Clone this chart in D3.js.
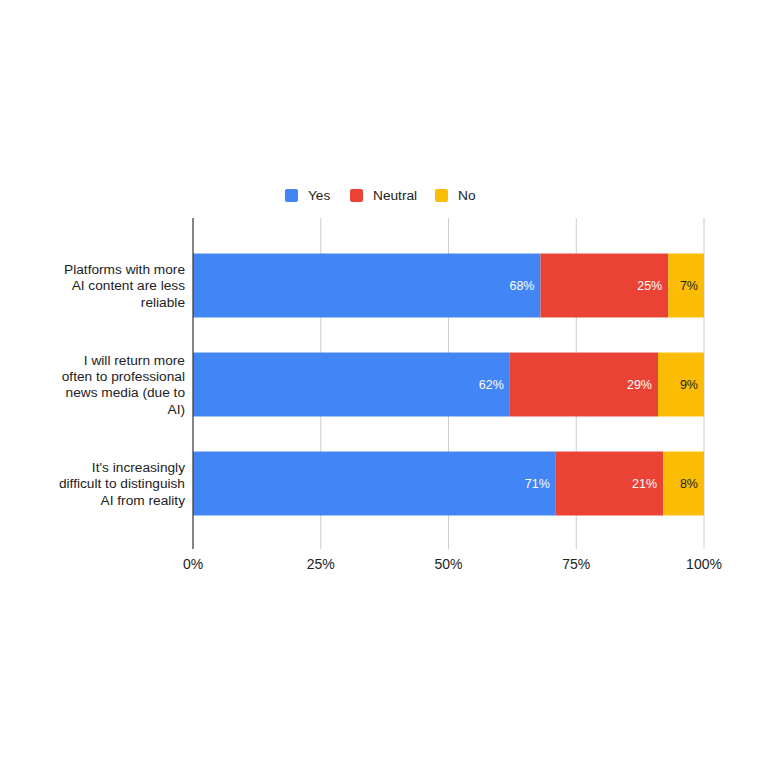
<!DOCTYPE html>
<html>
<head>
<meta charset="utf-8">
<script src="https://cdn.jsdelivr.net/npm/d3@7"></script>
<style>
  body { margin: 0; background: #fff; }
  svg { font-family: "Liberation Sans", Arial, sans-serif; }
</style>
</head>
<body>
<div id="vis"></div>
<script>
// chart data
const questions = [
  ['Platforms with more', 'AI content are less', 'reliable'],
  ['I will return more', 'often to professional', 'news media (due to', 'AI)'],
  ["It's increasingly", 'difficult to distinguish', 'AI from reality']
];
const series = ['Yes', 'Neutral', 'No'];
const yesValues = [68, 62, 71];
const neutralValues = [25, 29, 21];
const noValues = [7, 9, 8];
const tickValues = [0, 25, 50, 75, 100];

const colors = ['#4285f4', '#ea4335', '#fbbc04'];
const labelColors = ['#ffffff', '#ffffff', '#222222'];

const width = 760, height = 760;
const svg = d3.select('#vis').append('svg')
  .attr('width', width)
  .attr('height', height);

const x = d3.scaleLinear().domain([0, 100]).range([193, 704]);
const y = d3.scaleBand()
  .domain(d3.range(questions.length))
  .range([236, 533])
  .paddingInner(0.354)
  .paddingOuter(0.177);

// gridlines
svg.append('g').selectAll('line')
  .data(tickValues.slice(1))
  .join('line')
  .attr('x1', d => x(d)).attr('x2', d => x(d))
  .attr('y1', 218).attr('y2', 549)
  .attr('stroke', '#cccccc').attr('stroke-width', 1);

// tick labels
svg.append('g').selectAll('text')
  .data(tickValues)
  .join('text')
  .attr('x', d => x(d))
  .attr('y', 569)
  .attr('text-anchor', 'middle')
  .attr('font-size', 14)
  .attr('fill', '#222')
  .text(d => d + '%');

// stack the values
const rows = questions.map((q, i) => ({ Yes: yesValues[i], Neutral: neutralValues[i], No: noValues[i] }));
const stacked = d3.stack().keys(series)(rows);

const layers = svg.append('g').selectAll('g')
  .data(stacked)
  .join('g')
  .attr('fill', (d, i) => colors[i]);

layers.selectAll('rect')
  .data(d => d.map((v, i) => ({ v, i })))
  .join('rect')
  .attr('x', d => x(d.v[0]))
  .attr('y', d => y(d.i))
  .attr('width', d => x(d.v[1]) - x(d.v[0]))
  .attr('height', y.bandwidth());

// segment labels
stacked.forEach((layer, si) => {
  svg.append('g').selectAll('text')
    .data(layer.map((v, i) => ({ v, i })))
    .join('text')
    .attr('x', d => x(d.v[1]) - 6)
    .attr('y', d => y(d.i) + y.bandwidth() / 2)
    .attr('dy', '0.35em')
    .attr('text-anchor', 'end')
    .attr('font-size', 12.5)
    .attr('fill', labelColors[si])
    .text(d => (d.v[1] - d.v[0]) + '%');
});

// axis line
svg.append('line')
  .attr('x1', 193).attr('x2', 193)
  .attr('y1', 218).attr('y2', 549)
  .attr('stroke', '#333').attr('stroke-width', 1.2);

// category labels
const catLabels = svg.append('g').selectAll('text')
  .data(questions)
  .join('text')
  .attr('text-anchor', 'end')
  .attr('font-size', 13.7)
  .attr('fill', '#222');

catLabels.each(function (lines, i) {
  const cy = y(i) + y.bandwidth() / 2;
  const lh = 16.3;
  const top = cy - (lines.length - 1) * lh / 2;
  d3.select(this).selectAll('tspan')
    .data(lines)
    .join('tspan')
    .attr('x', 185)
    .attr('y', (d, k) => top + k * lh)
    .attr('dy', '0.35em')
    .text(d => d);
});

// legend
const legendX = [285, 350, 435];
const legend = svg.append('g').selectAll('g')
  .data(series)
  .join('g')
  .attr('transform', (d, i) => `translate(${legendX[i]},189)`);

legend.append('rect')
  .attr('width', 13).attr('height', 13)
  .attr('rx', 2)
  .attr('fill', (d, i) => colors[i]);

legend.append('text')
  .attr('x', 23)
  .attr('y', 6.5)
  .attr('dy', '0.35em')
  .attr('font-size', 13.7)
  .attr('fill', '#222')
  .text(d => d);
</script>
</body>
</html>
